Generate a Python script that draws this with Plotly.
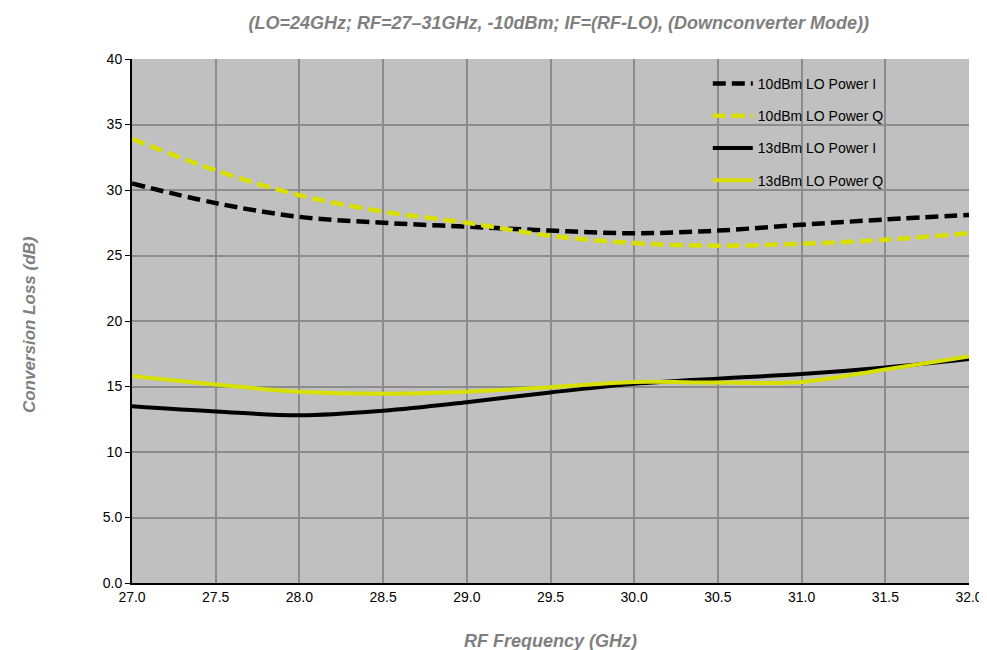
import plotly.graph_objects as go

freq = [27.0, 27.5, 28.0, 28.5, 29.0, 29.5, 30.0, 30.5, 31.0, 31.5, 32.0]
lo10_i = [30.5, 29.0, 27.95, 27.5, 27.2, 26.9, 26.7, 26.9, 27.35, 27.75, 28.1]
lo10_q = [33.9, 31.5, 29.6, 28.35, 27.5, 26.5, 25.95, 25.75, 25.9, 26.2, 26.7]
lo13_i = [13.5, 13.1, 12.8, 13.15, 13.8, 14.55, 15.2, 15.6, 15.95, 16.45, 17.1]
lo13_q = [15.8, 15.15, 14.6, 14.45, 14.6, 14.95, 15.35, 15.3, 15.35, 16.3, 17.3]

series_names = ["10dBm LO Power I", "10dBm LO Power Q", "13dBm LO Power I", "13dBm LO Power Q"]
x_ticks = [27.0, 27.5, 28.0, 28.5, 29.0, 29.5, 30.0, 30.5, 31.0, 31.5, 32.0]
x_tick_labels = ["27.0", "27.5", "28.0", "28.5", "29.0", "29.5", "30.0", "30.5", "31.0", "31.5", "32.0"]
y_ticks = [0, 5, 10, 15, 20, 25, 30, 35, 40]
y_tick_labels = ["0.0", "5.0", "10", "15", "20", "25", "30", "35", "40"]

BLACK = "#000000"
YELLOW = "#d7e000"
FONT = "Liberation Sans, Arial, sans-serif"

fig = go.Figure()
styles = [
    (lo10_i, BLACK, "13px,6px", 4.5),
    (lo10_q, YELLOW, "13px,6px", 4.5),
    (lo13_i, BLACK, "solid", 4),
    (lo13_q, YELLOW, "solid", 4),
]
for name, (vals, col, dash, w) in zip(series_names, styles):
    fig.add_trace(go.Scatter(
        x=freq, y=vals, mode="lines", name=name, legendgroup=name,
        line=dict(color=col, width=w, dash=dash, shape="spline", smoothing=1.0),
    ))

fig.update_layout(
    width=987, height=650,
    margin=dict(l=124, r=17, t=51, b=75),
    paper_bgcolor="white",
    plot_bgcolor="#c0c0c0",
    font=dict(family=FONT, size=14, color="black"),
    title=dict(
        text="<b><i>(LO=24GHz; RF=27–31GHz, -10dBm; IF=(RF-LO), (Downconverter Mode))</i></b>",
        x=0.558, xanchor="center", y=1 - 15 / 650, yanchor="middle",
        font=dict(family=FONT, size=18, color="#7f7f7f"),
    ),
    showlegend=True,
    legend=dict(
        x=(706 - 124) / 846, y=1 - (60 - 51) / 524, xanchor="left", yanchor="top",
        bgcolor="rgba(0,0,0,0)", traceorder="grouped", tracegroupgap=11,
        font=dict(family=FONT, size=14, color="black"),
        itemwidth=40,
    ),
    xaxis=dict(
        range=[27.0, 32.0], tickvals=x_ticks, ticktext=x_tick_labels,
        showgrid=True, gridcolor="#8c8c8c", gridwidth=1.5,
        showline=True, linecolor="black", linewidth=1.5, mirror=False,
        ticks="", zeroline=False,
        tickfont=dict(family=FONT, size=14, color="black"),
    ),
    yaxis=dict(
        range=[0, 40], tickvals=y_ticks, ticktext=y_tick_labels,
        showgrid=True, gridcolor="#8c8c8c", gridwidth=1.5,
        showline=True, linecolor="black", linewidth=2,
        ticks="outside", ticklen=5, tickcolor="black", zeroline=False,
        tickfont=dict(family=FONT, size=14, color="black"),
    ),
    annotations=[
        dict(text="<b><i>RF Frequency (GHz)</i></b>", xref="paper", yref="paper",
             x=0.5, y=(575 - 633) / 524, xanchor="center", yanchor="middle",
             showarrow=False, font=dict(family=FONT, size=18, color="#7f7f7f")),
        dict(text="<b><i>Conversion Loss (dB)</i></b>", xref="paper", yref="paper",
             x=(20 - 124) / 846, y=(575 - 317) / 524, xanchor="center", yanchor="middle",
             textangle=-90, showarrow=False, font=dict(family=FONT, size=17, color="#7f7f7f")),
    ],
)

fig.write_html("out.html")
